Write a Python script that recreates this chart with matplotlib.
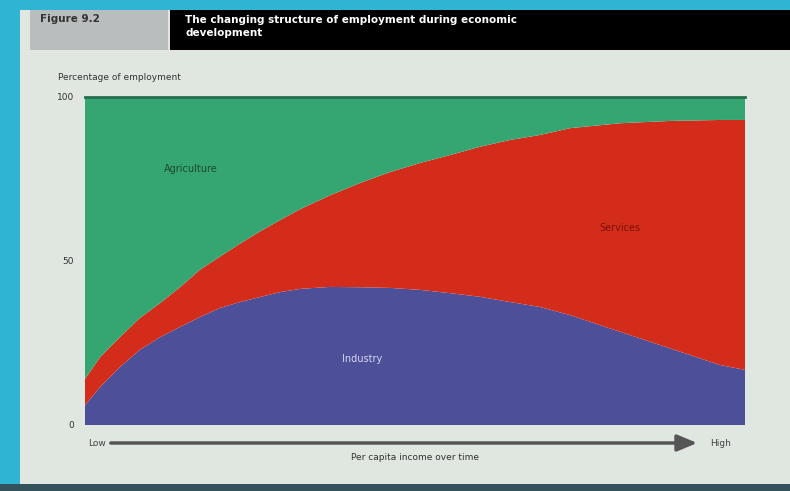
"""
Figure 9.2 - the changing structure of employment during economic development.
Stacked area chart: industry, services and agriculture shares of employment.
"""

import matplotlib
matplotlib.use("Agg")
import matplotlib.pyplot as plt
from matplotlib.patches import Rectangle, FancyArrowPatch

# Income position along the x axis (0 = low, 100 = high)
income = [0, 2.3, 5.3, 8.3, 11.4, 14.4, 17.4, 20.5, 23.5, 26.5, 29.5, 32.6,
          37.1, 41.7, 46.2, 50.8, 55.3, 59.8, 64.4, 68.9, 73.5, 81.1, 88.6,
          96.2, 100]

# Shares of employment (%)
industry = [6.0, 11.6, 17.7, 22.9, 26.8, 29.9, 32.9, 35.7, 37.5, 39.0, 40.5,
            41.5, 42.1, 42.0, 41.8, 41.2, 40.2, 39.1, 37.5, 36.0, 33.5, 28.4,
            23.4, 18.3, 16.8]
services = [8.0, 9.1, 9.1, 9.7, 10.4, 12.1, 14.4, 15.7, 17.8, 20.0, 21.9,
            24.3, 27.9, 31.8, 35.3, 38.7, 42.1, 45.7, 49.4, 52.4, 57.0, 63.6,
            69.3, 74.7, 76.2]
agriculture = [100 - i - s for i, s in zip(industry, services)]

y_ticks = [0, 50, 100]

GREEN = "#35a572"
RED = "#d32c1a"
BLUE = "#4d4f98"
PANEL = "#dfe7e0"

W, H = 790, 491
fig = plt.figure(figsize=(W / 100, H / 100), dpi=100)
fig.patch.set_facecolor("#2fb4d3")

# pixel-space overlay for the frame, header and x-axis arrow
bg = fig.add_axes([0, 0, 1, 1])
bg.set_xlim(0, W)
bg.set_ylim(H, 0)
bg.axis("off")
bg.add_patch(Rectangle((20, 10), W - 20, H - 16, facecolor=PANEL, edgecolor="none"))
bg.add_patch(Rectangle((0, H - 7), W, 7, facecolor="#34525b", edgecolor="none"))
bg.add_patch(Rectangle((30, 10), 138, 40, facecolor="#b9bdbd", edgecolor="none"))
bg.add_patch(Rectangle((170, 10), W - 170, 40, facecolor="black", edgecolor="none"))
bg.text(40, 19, "Figure 9.2", fontsize=7.5, color="#333333", fontweight="bold", va="center")
bg.text(185, 15, "The changing structure of employment during economic\ndevelopment",
        fontsize=7.5, color="white", fontweight="bold", va="top", linespacing=1.35)
bg.text(58, 77, "Percentage of employment", fontsize=6.5, color="#333333", va="center")

bg.add_patch(FancyArrowPatch((108, 443), (700, 443), arrowstyle="-|>,head_length=12,head_width=5",
                             color="#555555", lw=2.5, mutation_scale=1))
bg.text(88, 443, "Low", fontsize=6.5, color="#444444", va="center")
bg.text(710, 443, "High", fontsize=6.5, color="#444444", va="center")
bg.text(415, 458, "Per capita income over time", fontsize=6.5, color="#333333",
        ha="center", va="center")

# main chart
ax = fig.add_axes([85 / W, (H - 425) / H, 660 / W, 328 / H])
ax.stackplot(income, industry, services, agriculture,
             colors=[BLUE, RED, GREEN], linewidth=0)
ax.set_xlim(0, 100)
ax.set_ylim(0, 100)
ax.set_xticks([])
ax.set_yticks(y_ticks)
ax.set_yticklabels([str(t) for t in y_ticks], fontsize=6.5, color="#333333")
ax.tick_params(axis="y", length=0, pad=8)
for side in ["left", "right", "bottom"]:
    ax.spines[side].set_visible(False)
ax.spines["top"].set_color("#256e4c")
ax.spines["top"].set_linewidth(2)

ax.text(16, 78, "Agriculture", fontsize=7, color="#1d4a33", ha="center", va="center")
ax.text(81, 60, "Services", fontsize=7, color="#7a1208", ha="center", va="center")
ax.text(42, 20, "Industry", fontsize=7, color="#d6d6f0", ha="center", va="center")

fig.savefig("out.png", dpi=100, facecolor=fig.get_facecolor())
